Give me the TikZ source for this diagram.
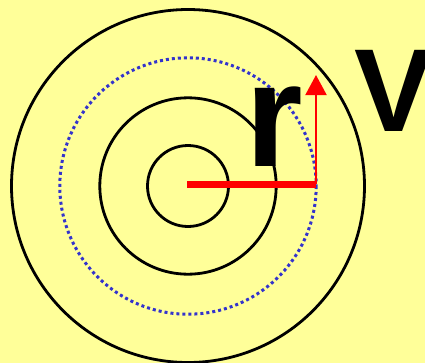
\documentclass[tikz,border=0pt]{standalone}
\usepackage{fontspec}
\setmainfont{Liberation Sans}
\usetikzlibrary{arrows.meta}
\definecolor{bg}{HTML}{FFFF99}
\definecolor{dotblue}{HTML}{3333CC}
\definecolor{vred}{HTML}{FF0000}
\tikzset{
  ring/.style={draw=black,line width=2.8bp},
  orbit/.style={draw=dotblue,line width=3bp,dash pattern=on 3bp off 3bp},
  radius line/.style={draw=vred,line width=6.5bp},
  velocity/.style={draw=vred,line width=2bp,-{Triangle[width=21bp,length=20bp]}},
  bigletter/.style={inner sep=0pt,font=\bfseries}
}
\begin{document}
\begin{tikzpicture}[x=1bp,y=-1bp]
\fill[bg] (0,0) rectangle (425,363);
\useasboundingbox (0,0) rectangle (425,363);
\coordinate (c) at (188,186);
\coordinate (rc) at (187,184.3);
\coordinate (tipbase) at (316,184.3);
\coordinate (tip) at (316,75);
\draw[ring] (c) circle[radius=176.5];
\draw[ring] (c) circle[radius=88.2];
\draw[ring] (c) circle[radius=40.5];
\draw[orbit] (c) circle[radius=128.2];
\node[bigletter,anchor=base west,font=\bfseries\fontsize{148bp}{148bp}\selectfont] (r) at (245,166) {r};
\node[bigletter,anchor=base west,font=\bfseries\fontsize{118bp}{118bp}\selectfont] (V) at (354,131) {V};
\draw[radius line] (rc) -- (tipbase);
\draw[velocity] (tipbase) -- (tip);
\end{tikzpicture}
\end{document}
